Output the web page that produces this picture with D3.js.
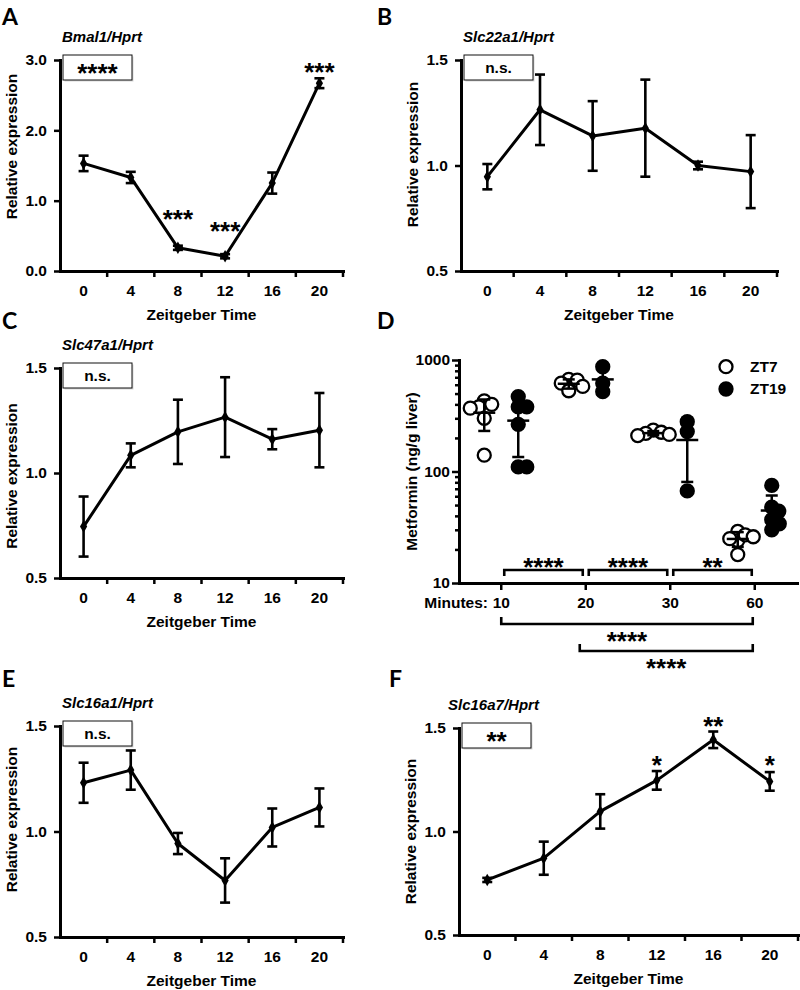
<!DOCTYPE html>
<html>
<head>
<meta charset="utf-8">
<script src="https://cdn.jsdelivr.net/npm/d3@7"></script>
<style>
  body { margin: 0; background: #fff; }
  svg text { font-family: "Liberation Sans", Arial, Helvetica, sans-serif; font-weight: bold; fill: #000; }
  .letter { font-family: Lato, "Open Sans", sans-serif; font-size: 23px; }
</style>
</head>
<body>
<svg id="fig" width="800" height="990"></svg>
<script>
// ---- data ----
const zt = [0, 4, 8, 12, 16, 20];

// A: Bmal1/Hprt
const bmalMean = [1.53, 1.33, 0.33, 0.21, 1.25, 2.67];
const bmalErr  = [0.11, 0.08, 0.03, 0.03, 0.15, 0.07];
const bmalStars = [{t: 8, v: 0.82, s: "***"}, {t: 12, v: 0.65, s: "***"}, {t: 20, v: 2.91, s: "***"}];

// B: Slc22a1/Hprt
const slc22Mean = [0.947, 1.264, 1.14, 1.177, 1.0, 0.971];
const slc22Err  = [0.06, 0.167, 0.165, 0.23, 0.018, 0.173];

// C: Slc47a1/Hprt
const slc47Mean = [0.745, 1.084, 1.196, 1.266, 1.161, 1.204];
const slc47Err  = [0.143, 0.057, 0.153, 0.19, 0.048, 0.177];

// E: Slc16a1/Hprt
const slc16a1Mean = [1.231, 1.291, 0.943, 0.768, 1.019, 1.114];
const slc16a1Err  = [0.095, 0.093, 0.05, 0.105, 0.09, 0.09];

// F: Slc16a7/Hprt
const slc16a7Mean = [0.766, 0.871, 1.097, 1.247, 1.443, 1.242];
const slc16a7Err  = [0.01, 0.08, 0.083, 0.045, 0.04, 0.045];
const slc16a7Stars = [{t: 12, v: 1.347, s: "*"}, {t: 16, v: 1.54, s: "**"}, {t: 20, v: 1.347, s: "*"}];

// D: metformin in liver (ng/g), individual animals
const minutes = ["10", "20", "30", "60"];
const zt7Values = [
  [430, 400, 380, 370, 300, 140],
  [670, 660, 620, 580, 530],
  [235, 225, 220, 215, 210],
  [29, 24, 27, 25, 26, 18]
];
const zt19Values = [
  [380, 380, 470, 265, 110, 110],
  [870, 620, 520],
  [280, 228, 67],
  [75, 48, 44, 37, 34, 30]
];
const upperBrackets = [{from: "10", to: "20", s: "****"}, {from: "20", to: "30", s: "****"}, {from: "30", to: "60", s: "**"}];
const lowerBrackets = [{from: "10", to: "60", s: "****"}, {from: "20", to: "60", s: "****"}];

// ---- drawing ----
const svg = d3.select("#fig");
const FS = 15.5;      // label size
const STAR = 26;      // asterisk size

function starText(g, x, yc, s) {
  // asterisk glyph sits ~0.57em above the baseline
  g.append("text").attr("x", x).attr("y", yc + 0.57 * STAR)
    .attr("text-anchor", "middle").attr("font-size", STAR).text(s);
}

function styleAxis(a) {
  a.attr("font-size", FS).attr("font-family", null);
  a.select(".domain").attr("stroke-width", 3).attr("stroke-linecap", "square");
  a.selectAll(".tick line").attr("stroke-width", 2.5);
}

function letter(s, x, y) {
  svg.append("text").attr("class", "letter").attr("x", x).attr("y", y).text(s);
}

function linePanel(p) {
  const g = svg.append("g");
  const x = d3.scaleBand().domain(zt).range([p.x0, p.x1]);
  const y = d3.scaleLinear().domain(p.domain).range([p.yBot, p.yTop]);
  const cx = t => x(t) + x.bandwidth() / 2;

  // y axis
  g.append("g").attr("transform", `translate(${p.x0},0)`)
    .call(d3.axisLeft(y).tickValues(p.ticks).tickFormat(d3.format(".1f"))
      .tickSize(6).tickSizeOuter(0).tickPadding(7))
    .call(styleAxis);

  // x axis: labels at category centres, ticks between categories
  const xa = g.append("g").attr("transform", `translate(0,${p.yBot})`)
    .call(d3.axisBottom(x).tickSize(0).tickSizeOuter(0))
    .call(styleAxis);
  xa.selectAll(".tick text").attr("dy", null).attr("y", 25);
  xa.selectAll(".sep").data(zt).join("line").attr("class", "sep")
    .attr("x1", t => x(t) + x.bandwidth()).attr("x2", t => x(t) + x.bandwidth())
    .attr("y1", 0).attr("y2", 6).attr("stroke", "#000").attr("stroke-width", 2.5);

  // axis titles
  g.append("text").attr("x", (p.x0 + p.x1) / 2).attr("y", p.yBot + 49)
    .attr("text-anchor", "middle").attr("font-size", FS).text("Zeitgeber Time");
  g.append("text")
    .attr("transform", `translate(${p.x0 - 48},${(p.yTop + p.yBot) / 2 + (p.labelShift || 0)}) rotate(-90)`)
    .attr("dy", "0.35em").attr("text-anchor", "middle").attr("font-size", FS).text("Relative expression");
  g.append("text").attr("x", p.titleX ?? p.x0 + 2).attr("y", p.yTop - 18)
    .attr("font-size", 15).attr("font-style", "italic").text(p.title);

  // significance box
  const bx = p.x0 + 3, by = p.yTop - 5, bw = 69, bh = 25;
  g.append("rect").attr("x", bx + 1.5).attr("y", by + 1.5).attr("width", bw).attr("height", bh).attr("fill", "#d8d8d8");
  g.append("rect").attr("x", bx).attr("y", by).attr("width", bw).attr("height", bh)
    .attr("fill", "#fff").attr("stroke", "#111").attr("stroke-width", 1);
  if (p.box.includes("*")) starText(g, bx + bw / 2, by + bh / 2, p.box);
  else g.append("text").attr("x", bx + bw / 2).attr("y", by + bh / 2 + 5)
    .attr("text-anchor", "middle").attr("font-size", FS).text(p.box);

  const pts = zt.map((t, i) => ({t, m: p.mean[i], e: p.err[i]}));

  // line
  g.append("path").datum(pts)
    .attr("d", d3.line().x(d => cx(d.t)).y(d => y(d.m)))
    .attr("fill", "none").attr("stroke", "#000").attr("stroke-width", 3).attr("stroke-linejoin", "round");

  // error bars
  const eb = g.append("g").attr("stroke", "#000").attr("stroke-width", 2.6);
  eb.selectAll(".v").data(pts).join("line")
    .attr("x1", d => cx(d.t)).attr("x2", d => cx(d.t))
    .attr("y1", d => y(d.m - d.e)).attr("y2", d => y(d.m + d.e));
  eb.selectAll(".capT").data(pts).join("line")
    .attr("x1", d => cx(d.t) - 5).attr("x2", d => cx(d.t) + 5)
    .attr("y1", d => y(d.m + d.e)).attr("y2", d => y(d.m + d.e));
  eb.selectAll(".capB").data(pts).join("line")
    .attr("x1", d => cx(d.t) - 5).attr("x2", d => cx(d.t) + 5)
    .attr("y1", d => y(d.m - d.e)).attr("y2", d => y(d.m - d.e));

  // markers
  g.selectAll(".mk").data(pts).join("path")
    .attr("transform", d => `translate(${cx(d.t)},${y(d.m)})`)
    .attr("d", d3.symbol(d3.symbolDiamond, 45)).attr("fill", "#000");

  (p.stars || []).forEach(s => starText(g, cx(s.t), y(s.v), s.s));

  letter(p.letter, p.letterX, p.letterY);
}

linePanel({x0: 60, x1: 343, yTop: 60, yBot: 271, domain: [0, 3], ticks: [0, 1, 2, 3],
  mean: bmalMean, err: bmalErr, title: "Bmal1/Hprt", box: "****", stars: bmalStars, labelShift: -19,
  letter: "A", letterX: 2, letterY: 25});
linePanel({x0: 461, x1: 777, yTop: 60, yBot: 271, domain: [0.5, 1.5], ticks: [0.5, 1, 1.5],
  mean: slc22Mean, err: slc22Err, title: "Slc22a1/Hprt", box: "n.s.", labelShift: -11,
  letter: "B", letterX: 377, letterY: 25});
linePanel({x0: 60, x1: 343, yTop: 368, yBot: 578, domain: [0.5, 1.5], ticks: [0.5, 1, 1.5],
  mean: slc47Mean, err: slc47Err, title: "Slc47a1/Hprt", box: "n.s.", labelShift: 3,
  letter: "C", letterX: 2, letterY: 329});
linePanel({x0: 60, x1: 343, yTop: 726, yBot: 937, domain: [0.5, 1.5], ticks: [0.5, 1, 1.5],
  mean: slc16a1Mean, err: slc16a1Err, title: "Slc16a1/Hprt", box: "n.s.", labelShift: -12,
  letter: "E", letterX: 2, letterY: 687});
linePanel({x0: 459, x1: 798, yTop: 728, yBot: 935, domain: [0.5, 1.5], ticks: [0.5, 1, 1.5],
  mean: slc16a7Mean, err: slc16a7Err, title: "Slc16a7/Hprt", titleX: 448, box: "**", stars: slc16a7Stars,
  letter: "F", letterX: 389, letterY: 687});

// ---- panel D ----
(function () {
  const x0 = 459, x1 = 797, yTop = 360, yBot = 583, r = 6.5, off = 17;
  const g = svg.append("g");
  const x = d3.scaleBand().domain(minutes).range([x0, x1]);
  const y = d3.scaleLog().domain([10, 1000]).range([yBot, yTop]);
  const cx = m => x(m) + x.bandwidth() / 2;

  // axes
  const minor = [20, 30, 40, 50, 60, 70, 80, 90, 200, 300, 400, 500, 600, 700, 800, 900];
  g.append("g").attr("transform", `translate(${x0},0)`)
    .call(d3.axisLeft(y).tickValues(minor).tickFormat("").tickSize(4).tickSizeOuter(0))
    .call(styleAxis);
  g.append("g").attr("transform", `translate(${x0},0)`)
    .call(d3.axisLeft(y).tickValues([10, 100, 1000]).tickFormat(d3.format("d"))
      .tickSize(7).tickSizeOuter(0).tickPadding(2))
    .call(styleAxis);
  const xa = g.append("g").attr("transform", `translate(0,${yBot})`)
    .call(d3.axisBottom(x).tickSize(7).tickSizeOuter(0))
    .call(styleAxis);
  xa.selectAll(".tick text").attr("dy", null).attr("y", 25);
  g.append("text").attr("x", 488).attr("y", yBot + 25).attr("text-anchor", "end")
    .attr("font-size", FS).text("Minutes:");
  g.append("text").attr("transform", `translate(${x0 - 47},${(yTop + yBot) / 2}) rotate(-90)`)
    .attr("dy", "0.35em").attr("text-anchor", "middle").attr("font-size", FS).text("Metformin (ng/g liver)");

  // simple beeswarm: animals that would sit on top of each other are nudged sideways
  function swarm(values, c) {
    const placed = [];
    values.forEach(v => {
      const py = y(v);
      let dx = 0;
      for (let k = 0; k < 400; k++) {
        const cand = (k % 2 ? 1 : -1) * Math.ceil(k / 2) * 0.5;
        if (placed.every(q => Math.hypot(q.x - (c + cand), q.y - py) >= r * 1.25)) { dx = cand; break; }
      }
      placed.push({x: c + dx, y: py});
    });
    return placed;
  }

  const groups = [];
  minutes.forEach((m, i) => {
    groups.push({c: cx(m) - off, vals: zt7Values[i], open: true});
    groups.push({c: cx(m) + off, vals: zt19Values[i], open: false});
  });

  groups.forEach(gr => {
    const pts = swarm(gr.vals, gr.c);
    g.append("g").selectAll("circle").data(pts).join("circle")
      .attr("cx", d => d.x).attr("cy", d => d.y).attr("r", r)
      .attr("fill", gr.open ? "#fff" : "#000").attr("stroke", "#000").attr("stroke-width", 2.3);
    const mean = d3.mean(gr.vals), sd = d3.deviation(gr.vals);
    const e = g.append("g").attr("stroke", "#000").attr("stroke-width", 2.5);
    e.append("line").attr("x1", gr.c).attr("x2", gr.c).attr("y1", y(mean - sd)).attr("y2", y(mean + sd));
    e.append("line").attr("x1", gr.c - 11).attr("x2", gr.c + 11).attr("y1", y(mean)).attr("y2", y(mean));
    [mean - sd, mean + sd].forEach(v =>
      e.append("line").attr("x1", gr.c - 6).attr("x2", gr.c + 6).attr("y1", y(v)).attr("y2", y(v)));
  });

  // legend
  [["ZT7", true, 366.7], ["ZT19", false, 389]].forEach(([lab, open, ly]) => {
    g.append("circle").attr("cx", 726).attr("cy", ly).attr("r", r)
      .attr("fill", open ? "#fff" : "#000").attr("stroke", "#000").attr("stroke-width", 2.3);
    g.append("text").attr("x", 750).attr("y", ly + 5.4).attr("font-size", FS).text(lab);
  });

  // comparison brackets between time points
  const br = g.append("g").attr("fill", "none").attr("stroke", "#000").attr("stroke-width", 2.6);
  upperBrackets.forEach(b => {
    const a = cx(b.from) + 3, z = cx(b.to) - 3, by = 570;
    br.append("path").attr("d", `M${a},${by + 6}V${by}H${z}V${by + 6}`);
    starText(g, (a + z) / 2, by - 9, b.s);
  });
  lowerBrackets.forEach((b, i) => {
    const a = cx(b.from) - (i ? 6 : 0), z = cx(b.to) - 2, by = 624 + i * 27;
    br.append("path").attr("d", `M${a},${by - 7}V${by}H${z}V${by - 7}`);
    starText(g, (a + z) / 2, by + 11, b.s);
  });

  letter("D", 377, 329);
})();
</script>
</body>
</html>
